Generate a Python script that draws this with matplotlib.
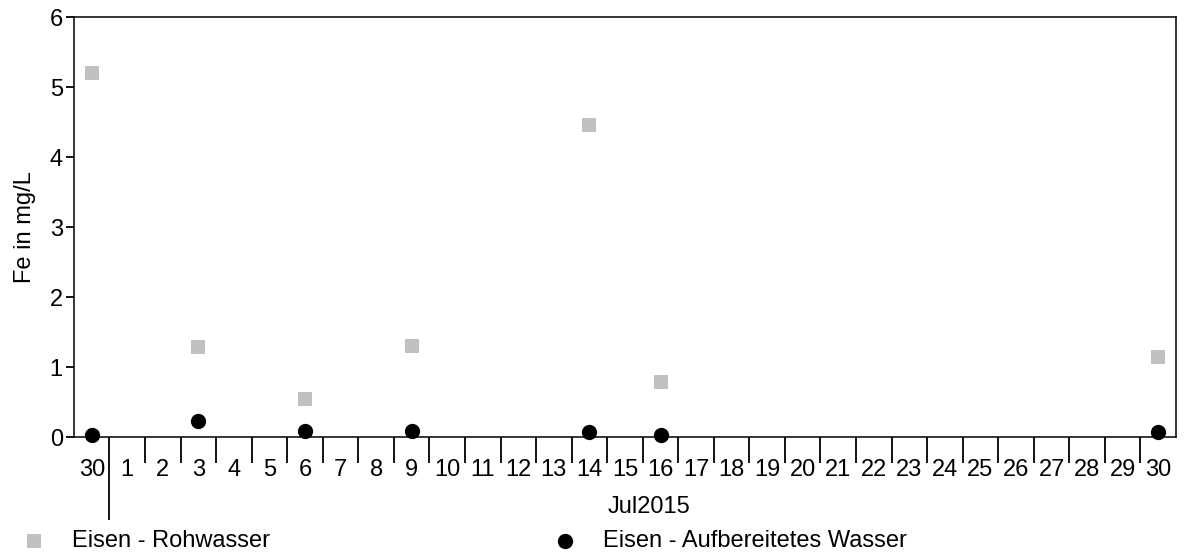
import matplotlib.pyplot as plt
from matplotlib.ticker import FixedLocator, NullFormatter

plt.rcParams['font.family'] = ['Liberation Sans', 'DejaVu Sans']

# x axis: 30 June followed by every day of July 2015
day_labels = ["30"] + [str(d) for d in range(1, 31)]

# sample days (index into day_labels) and measured iron values
sample_idx = [0, 3, 6, 9, 14, 16, 30]
fe_raw = [5.2, 1.28, 0.55, 1.30, 4.46, 0.79, 1.14]
fe_treated = [0.03, 0.23, 0.09, 0.09, 0.07, 0.03, 0.07]

fig = plt.figure(figsize=(11.85, 5.52), dpi=100)
ax = fig.add_axes([0.0624, 0.2083, 0.930, 0.7609])

ax.scatter(sample_idx, fe_raw, marker="s", s=10.5 ** 2, color="#c0c0c0",
           linewidths=0, label="Eisen - Rohwasser", clip_on=False, zorder=3)
ax.scatter(sample_idx, fe_treated, marker="o", s=11 ** 2, color="black",
           linewidths=0, label="Eisen - Aufbereitetes Wasser", clip_on=False, zorder=4)

ax.set_xlim(-0.5, len(day_labels) - 0.5)
ax.set_ylim(0, 6)
ax.set_yticks(range(0, 7))

ax.set_xticks(range(len(day_labels)))
ax.set_xticklabels(day_labels)
ax.xaxis.set_minor_locator(FixedLocator([i + 0.5 for i in range(len(day_labels) - 1)]))
ax.xaxis.set_minor_formatter(NullFormatter())

ax.tick_params(axis="x", which="major", length=0, pad=16, labelsize=17)
ax.tick_params(axis="x", which="minor", length=19, width=1.3, direction="out")
ax.tick_params(axis="y", length=6, width=1.3, pad=2, labelsize=17)

# month boundary tick is longer
ax.xaxis.get_minor_ticks()[0].tick1line.set_markersize(60)

for sp in ax.spines.values():
    sp.set_linewidth(1.1)

ax.set_ylabel("Fe in mg/L", fontsize=17, labelpad=10)
ax.text(0.522, -0.14, "Jul2015", transform=ax.transAxes, ha="center", va="top",
        fontsize=17)

fig.legend(loc="lower left", bbox_to_anchor=(0.011, -0.018), ncol=2, frameon=False,
           fontsize=17, handlelength=1, handletextpad=1.1, columnspacing=12.0,
           borderaxespad=0)

fig.savefig("out.png", dpi=100)
